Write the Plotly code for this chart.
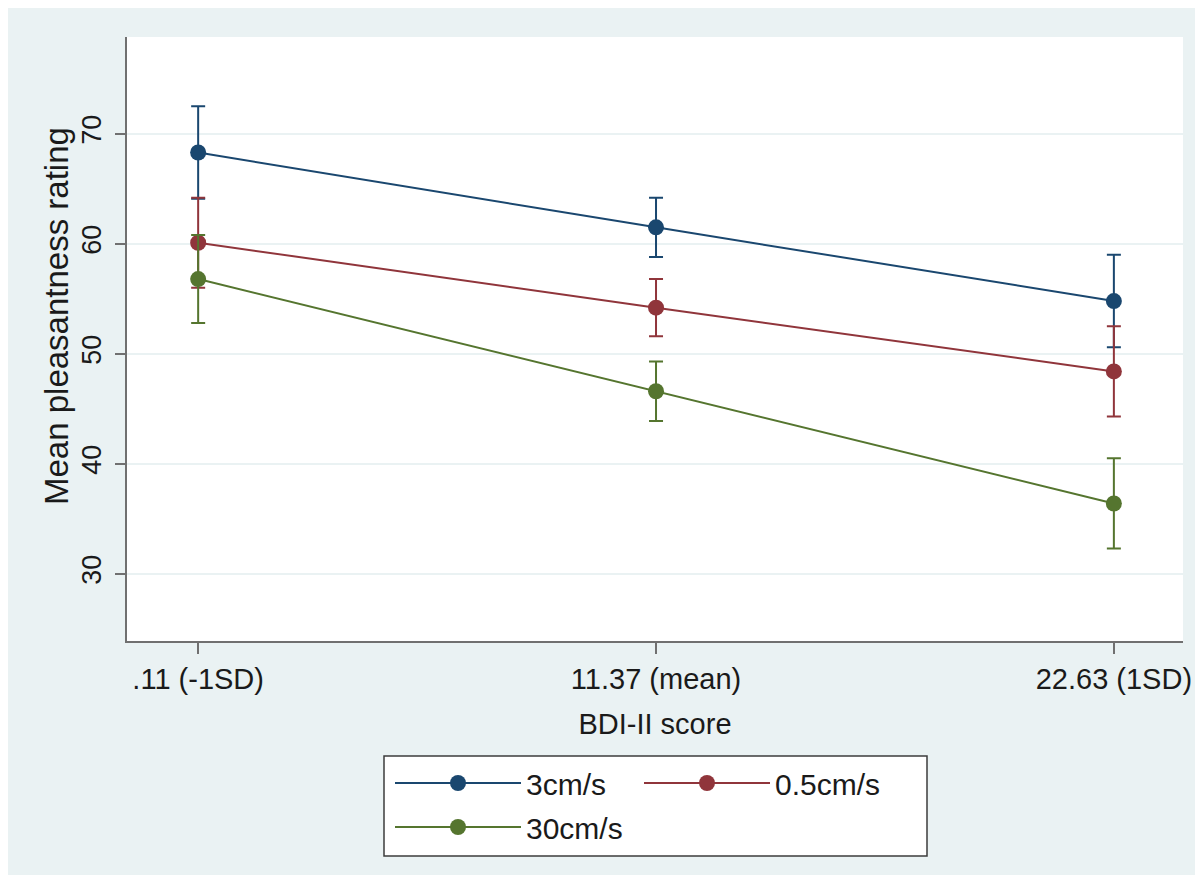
import plotly.graph_objects as go

# Data
x_vals = [0.11, 11.37, 22.63]
x_labels = [".11 (-1SD)", "11.37 (mean)", "22.63 (1SD)"]

series_names = ["3cm/s", "0.5cm/s", "30cm/s"]
series_colors = ["#1a476f", "#90353b", "#55752f"]

mean_3cm = [68.3, 61.5, 54.8]
err_3cm = [4.2, 2.7, 4.2]
mean_05cm = [60.1, 54.2, 48.4]
err_05cm = [4.1, 2.6, 4.1]
mean_30cm = [56.8, 46.6, 36.4]
err_30cm = [4.0, 2.7, 4.1]

y_ticks = [30, 40, 50, 60, 70]

x_title = "BDI-II score"
y_title = "Mean pleasantness rating"

means = [mean_3cm, mean_05cm, mean_30cm]
errs = [err_3cm, err_05cm, err_30cm]
legend_ids = ["legend", "legend", "legend2"]

FONT = "Liberation Sans, Arial, sans-serif"
BG = "#eaf2f3"
TXT = "#1a1a1a"

fig = go.Figure()
for name, col, m, e, lg in zip(series_names, series_colors, means, errs, legend_ids):
    fig.add_trace(go.Scatter(
        x=x_vals, y=m, name=name, mode="lines+markers",
        line=dict(color=col, width=2),
        marker=dict(color=col, size=16),
        error_y=dict(type="data", array=e, visible=True, color=col, thickness=2, width=7),
        legend=lg,
    ))

# page body adds an 8px offset; figure coordinates = screen - 8
OFF = 8
W, H = 1195, 867
ml, mr, mt, mb = 127 - OFF, 20, 37 - OFF, H - (641 - OFF)
pw, ph = W - ml - mr, H - mt - mb

def px(xs):
    return (xs - OFF - ml) / pw

def py(ys):
    return (H - mb - (ys - OFF)) / ph

shapes = [
    # legend box
    dict(type="rect", xref="paper", yref="paper", x0=px(384), x1=px(927), y0=py(856), y1=py(756),
         fillcolor="white", line=dict(color="#3c3c3c", width=1.5), layer="below"),
]

annotations = [
    dict(text=y_title, xref="paper", yref="paper", x=px(56), y=py(316),
         xanchor="center", yanchor="middle", textangle=-90, showarrow=False,
         font=dict(family=FONT, size=33, color=TXT)),
]

leg_common = dict(
    orientation="h", xanchor="left", yanchor="top",
    bgcolor="rgba(0,0,0,0)", borderwidth=0,
    font=dict(family=FONT, size=30, color=TXT),
    itemwidth=126, entrywidth=108, entrywidthmode="pixels",
    itemclick=False, itemdoubleclick=False,
)

fig.update_layout(
    width=W, height=H,
    margin=dict(l=ml, r=mr, t=mt, b=mb, pad=0),
    paper_bgcolor=BG, plot_bgcolor="white",
    font=dict(family=FONT, size=29, color=TXT),
    showlegend=True,
    legend=dict(x=px(390), y=py(757), **leg_common),
    legend2=dict(x=px(390), y=py(801), **leg_common),
    shapes=shapes,
    annotations=annotations,
    xaxis=dict(
        range=[-1.64, 24.33], tickmode="array", tickvals=x_vals, ticktext=x_labels,
        showgrid=False, zeroline=False,
        showline=True, linecolor="#707070", linewidth=2,
        ticks="outside", ticklen=11, tickwidth=1.5, tickcolor="#707070",
        tickfont=dict(family=FONT, size=29, color=TXT),
        title=dict(text=x_title, font=dict(family=FONT, size=29, color=TXT), standoff=20),
    ),
    yaxis=dict(
        range=[23.9, 78.8], tickmode="array", tickvals=y_ticks,
        showgrid=True, gridcolor=BG, gridwidth=2, zeroline=False,
        showline=True, linecolor="#707070", linewidth=2,
        ticks="outside", ticklen=10, tickwidth=1.5, tickcolor="#707070",
        tickangle=-90, ticklabelstandoff=3,
        tickfont=dict(family=FONT, size=27, color=TXT),
    ),
)

fig.write_html("out.html")
